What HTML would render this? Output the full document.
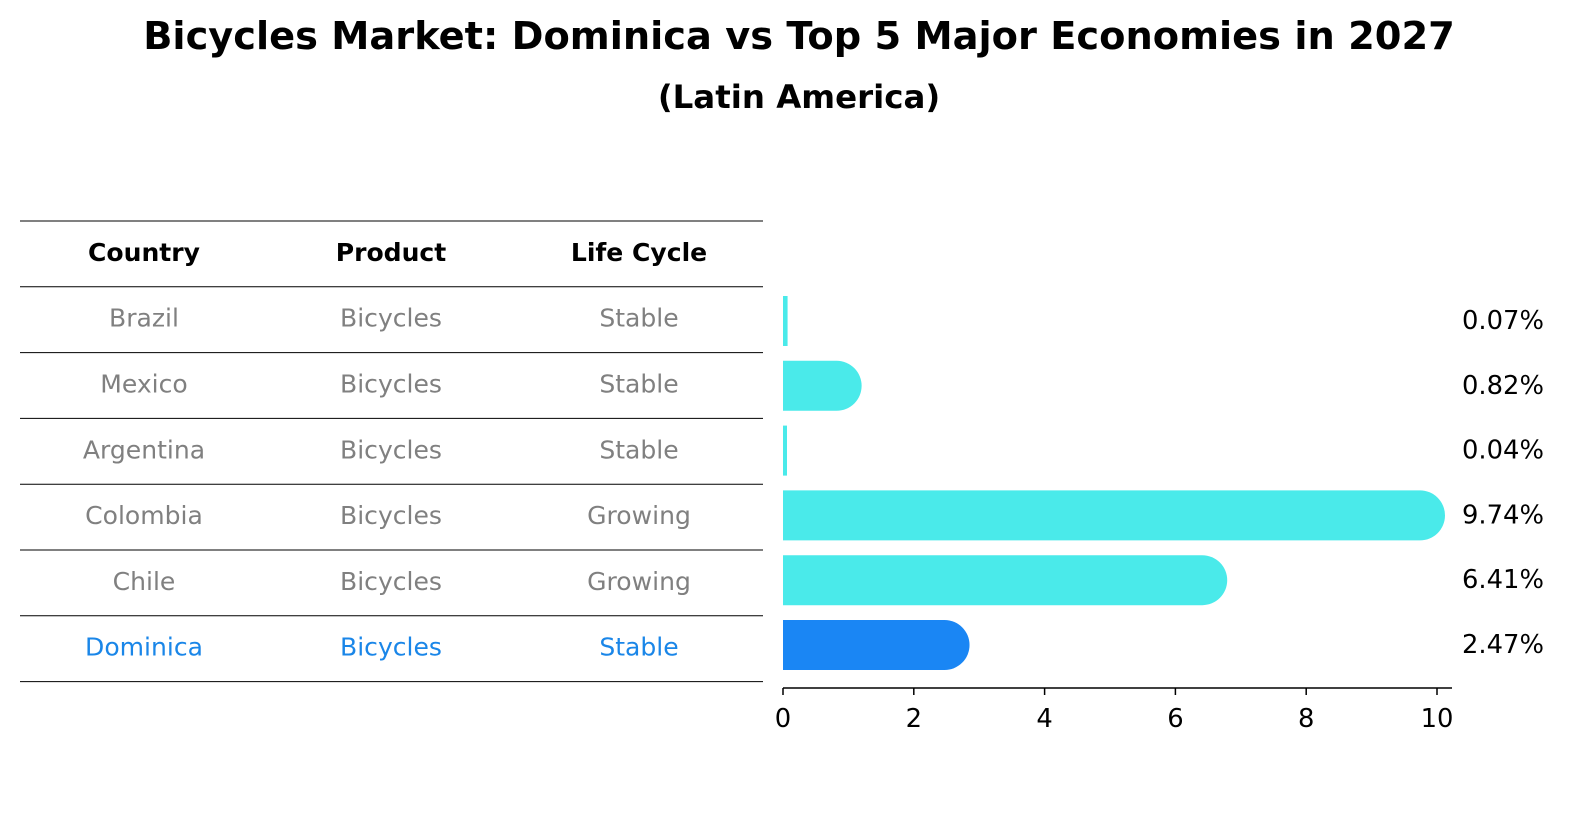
<!DOCTYPE html>
<html><head><meta charset="utf-8"><style>
body{margin:0;background:#fff;font-family:"Liberation Sans","DejaVu Sans",sans-serif;}
svg text{font-family:"DejaVu Sans","Liberation Sans",sans-serif;}
</style></head><body>
<svg width="1586" height="823" viewBox="0 0 1586 823">
<rect width="1586" height="823" fill="#fff"/>
<text id="title" x="799" y="49" text-anchor="middle" font-size="26" font-weight="bold">Bicycles Market: Dominica vs Top 5 Major Economies in 2027</text>
<text id="subtitle" x="799" y="108" text-anchor="middle" font-size="22" font-weight="bold">(Latin America)</text>
<g id="table"></g>
<g id="bars"></g>
</svg>
<script>
const countries=["Brazil","Mexico","Argentina","Colombia","Chile","Dominica"];
const products=["Bicycles","Bicycles","Bicycles","Bicycles","Bicycles","Bicycles"];
const lifeCycles=["Stable","Stable","Stable","Growing","Growing","Stable"];
const values=[0.07,0.82,0.04,9.74,6.41,2.47];
const valueLabels=["0.07%","0.82%","0.04%","9.74%","6.41%","2.47%"];
const xTicks=[0,2,4,6,8,10];
const NS="http://www.w3.org/2000/svg";
function mk(tag,attrs,parent,txt){const e=document.createElementNS(NS,tag);for(const k in attrs)e.setAttribute(k,attrs[k]);if(txt!==undefined)e.textContent=txt;parent.appendChild(e);return e;}
// font scale calibration: title should span ~1312px
const titleEl=document.getElementById('title');
let fs=1;
try{const w=titleEl.getComputedTextLength();if(w>100)fs=1312/w;}catch(e){}
if(fs<0.7||fs>2)fs=1;
titleEl.setAttribute('font-size',26*fs);
document.getElementById('subtitle').setAttribute('font-size',22*fs);
const tbl=document.getElementById('table');
const rowH=65.8, tableTop=221;
const colX=[144,391,639];
for(let i=0;i<=countries.length+1;i++){
  const l=mk('line',{x1:20,x2:763,y1:tableTop+i*rowH,y2:tableTop+i*rowH,stroke:'#000','stroke-width':1},tbl);
  
  
}
["Country","Product","Life Cycle"].forEach((h,j)=>{
  const t=mk('text',{x:colX[j],y:tableTop+rowH/2+7,'text-anchor':'middle','font-size':17*fs,'font-weight':'bold'},tbl,h);
  
  
});
countries.forEach((c,i)=>{
  const col=i===countries.length-1?'#1a86e8':'#808080';
  [c,products[i],lifeCycles[i]].forEach((v,j)=>{
    const t=mk('text',{x:colX[j],y:tableTop+(i+1.5)*rowH+7,'text-anchor':'middle','font-size':17*fs,fill:col},tbl,v);
    
    
  });
});
const g=document.getElementById('bars');
const x0=783, x1=1437;
const xs=v=>x0+(v/10)*(x1-x0);
const yc=i=>321+i*64.8;
const bh=50;
values.forEach((v,i)=>{
  const col=i===values.length-1?'#1a86f4':'#4aeaea';
  const w=Math.max(xs(v)-x0,1);
  let d;
  if(v>0.5){const r=bh/2;d=`M${x0},${yc(i)-r}H${x0+w}A${r},${r} 0 0 1 ${x0+w},${yc(i)+r}H${x0}Z`;}
  else d=`M${x0},${yc(i)-bh/2}h${Math.max(w,4)}v${bh}h${-Math.max(w,4)}Z`;
  const p=mk('path',{d:d,fill:col},g);
  
  
  const t=mk('text',{x:1462,y:yc(i)+8,'font-size':17.5*fs},g,valueLabels[i]);
  
  
});
const ax=mk('line',{x1:x0,x2:1452,y1:688,y2:688,stroke:'#000','stroke-width':1.5},g);


xTicks.forEach(v=>{
  const l=mk('line',{x1:xs(v),x2:xs(v),y1:688,y2:695,stroke:'#000','stroke-width':1.5},g);
  
  
  const t=mk('text',{x:xs(v),y:727,'text-anchor':'middle','font-size':17.5*fs},g,String(v));
  
  
});
</script>
</body></html>
